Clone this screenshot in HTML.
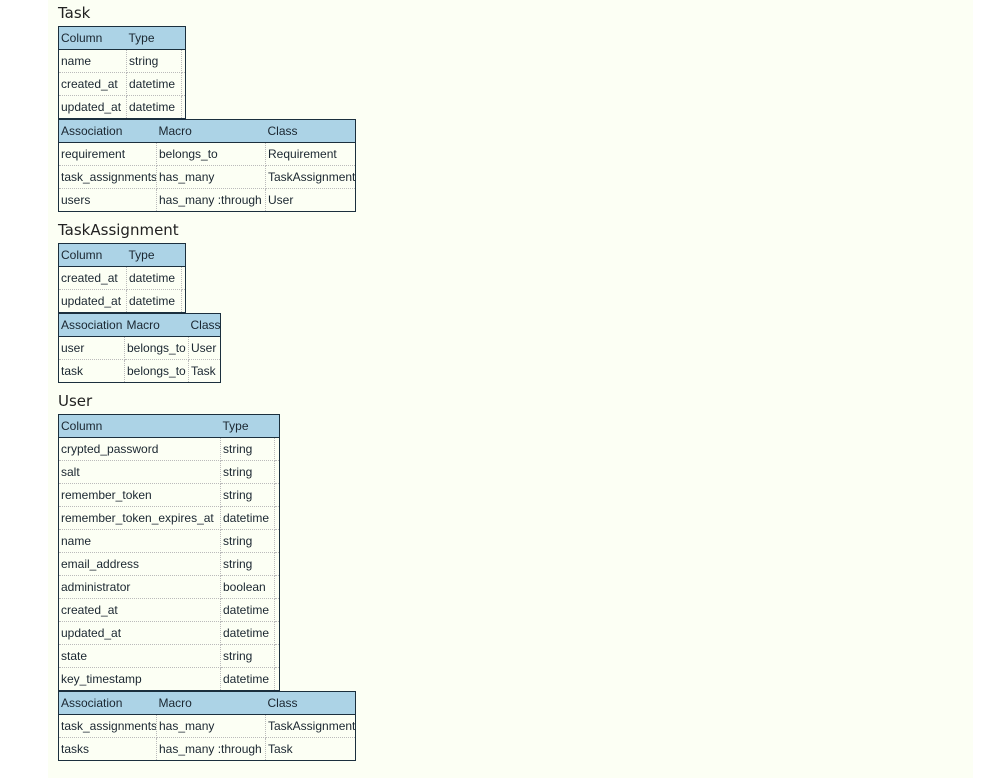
<!DOCTYPE html>
<html><head><meta charset="utf-8">
<style>
html,body{margin:0;padding:0;background:#fff;width:990px;height:778px;overflow:hidden}
#pg{position:absolute;left:48px;top:0;width:925px;height:778px;background:#fcfff4}
h2{position:absolute;left:58px;margin:0;font:normal 15px "DejaVu Sans","Liberation Sans",sans-serif;color:#222}
table{position:absolute;left:58px;border-collapse:collapse;table-layout:fixed;border:1px solid #1b2f3d;font:12px "Liberation Sans",sans-serif;color:#1a2630;letter-spacing:0}
td,th{height:22px;padding:0 0 0 2px;border:1px dotted #bbb;white-space:nowrap;overflow:hidden;text-align:left;font-weight:normal}
th{background:#acd3e6;border:none;border-bottom:1px solid #1b2f3d}
td.e{padding:0}
</style></head><body>
<div id="pg"></div>
<h2 style="top:4px">Task</h2>
<table style="top:26px;width:127px">
<colgroup><col style="width:68px"><col style="width:55px"><col style="width:4px"></colgroup>
<tr><th>Column</th><th colspan="2">Type</th></tr>
<tr><td>name</td><td>string</td><td class="e"></td></tr>
<tr><td>created_at</td><td>datetime</td><td class="e"></td></tr>
<tr><td>updated_at</td><td>datetime</td><td class="e"></td></tr>
</table>
<table style="top:119px;width:297px">
<colgroup><col style="width:98px"><col style="width:109px"><col style="width:90px"></colgroup>
<tr><th>Association</th><th>Macro</th><th>Class</th></tr>
<tr><td>requirement</td><td>belongs_to</td><td>Requirement</td></tr>
<tr><td>task_assignments</td><td>has_many</td><td>TaskAssignment</td></tr>
<tr><td>users</td><td>has_many :through</td><td>User</td></tr>
</table>
<h2 style="top:221px">TaskAssignment</h2>
<table style="top:243px;width:127px">
<colgroup><col style="width:68px"><col style="width:55px"><col style="width:4px"></colgroup>
<tr><th>Column</th><th colspan="2">Type</th></tr>
<tr><td>created_at</td><td>datetime</td><td class="e"></td></tr>
<tr><td>updated_at</td><td>datetime</td><td class="e"></td></tr>
</table>
<table style="top:313px;width:162px">
<colgroup><col style="width:66px"><col style="width:64px"><col style="width:32px"></colgroup>
<tr><th>Association</th><th>Macro</th><th>Class</th></tr>
<tr><td>user</td><td>belongs_to</td><td>User</td></tr>
<tr><td>task</td><td>belongs_to</td><td>Task</td></tr>
</table>
<h2 style="top:392px">User</h2>
<table style="top:414px;width:221px">
<colgroup><col style="width:162px"><col style="width:54px"><col style="width:5px"></colgroup>
<tr><th>Column</th><th colspan="2">Type</th></tr>
<tr><td>crypted_password</td><td>string</td><td class="e"></td></tr>
<tr><td>salt</td><td>string</td><td class="e"></td></tr>
<tr><td>remember_token</td><td>string</td><td class="e"></td></tr>
<tr><td>remember_token_expires_at</td><td>datetime</td><td class="e"></td></tr>
<tr><td>name</td><td>string</td><td class="e"></td></tr>
<tr><td>email_address</td><td>string</td><td class="e"></td></tr>
<tr><td>administrator</td><td>boolean</td><td class="e"></td></tr>
<tr><td>created_at</td><td>datetime</td><td class="e"></td></tr>
<tr><td>updated_at</td><td>datetime</td><td class="e"></td></tr>
<tr><td>state</td><td>string</td><td class="e"></td></tr>
<tr><td>key_timestamp</td><td>datetime</td><td class="e"></td></tr>
</table>
<table style="top:691px;width:297px">
<colgroup><col style="width:98px"><col style="width:109px"><col style="width:90px"></colgroup>
<tr><th>Association</th><th>Macro</th><th>Class</th></tr>
<tr><td>task_assignments</td><td>has_many</td><td>TaskAssignment</td></tr>
<tr><td>tasks</td><td>has_many :through</td><td>Task</td></tr>
</table>
</body></html>
